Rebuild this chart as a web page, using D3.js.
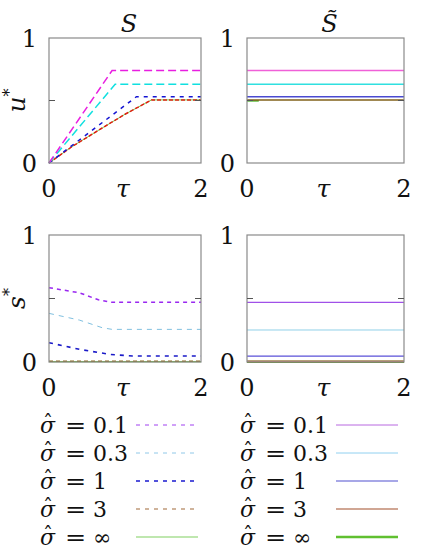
<!DOCTYPE html>
<html>
<head>
<meta charset="utf-8">
<script src="https://cdn.jsdelivr.net/npm/d3@7"></script>
<style>
  body { margin: 0; background: #fff; }
  svg text { font-family: "DejaVu Serif"; fill: #111; }
</style>
</head>
<body>
<div id="chart"></div>
<script>
// sigma values (series)
var sigmaLabels = ["0.1", "0.3", "1", "3", "\u221E"];

// u* for S : [tau, value] points per sigma
var uS = [
  [[0, 0], [0.83, 0.74], [2, 0.74]],
  [[0, 0], [0.87, 0.63], [2, 0.63]],
  [[0, 0], [1.15, 0.53], [2, 0.53]],
  [[0, 0], [0.3, 0.13], [0.7, 0.28], [1.0, 0.39], [1.35, 0.505], [2, 0.505]],
  [[0, 0], [0.3, 0.13], [0.7, 0.28], [1.0, 0.39], [1.35, 0.505], [2, 0.505]]
];
// u* for S-tilde
var uT = [
  [[0, 0.74], [2, 0.74]],
  [[0, 0.63], [2, 0.63]],
  [[0, 0.53], [2, 0.53]],
  [[0, 0.505], [2, 0.505]],
  [[0, 0.497], [0.15, 0.497]]
];
// s* for S
var sS = [
  [[0, 0.585], [0.4, 0.545], [0.65, 0.49], [0.83, 0.47], [2, 0.47]],
  [[0, 0.383], [0.4, 0.33], [0.7, 0.27], [0.83, 0.257], [2, 0.257]],
  [[0, 0.152], [0.4, 0.1], [0.8, 0.06], [1.1, 0.047], [2, 0.047]],
  [[0, 0.006], [2, 0.006]],
  [[0, 0.003], [2, 0.003]]
];
// s* for S-tilde
var sT = [
  [[0, 0.47], [2, 0.47]],
  [[0, 0.252], [2, 0.252]],
  [[0, 0.047], [2, 0.047]],
  [[0, 0.006], [2, 0.006]],
  [[0, 0.002], [2, 0.002]]
];

var xTicks = [0, 2];
var yTicks = [0, 1];

// styles per panel, per series
var dashedS = ["8,4", "8,4", "4,5", "4,2", null];
var colUS = ["#e81ee0", "#10e0e0", "#1414d2", "#e02010", "#70d050"];
var colUT = ["#f060d8", "#30e0e0", "#4a4ad0", "#806018", "#40b020"];
var colSS = ["#9a28f0", "#80c0e0", "#1a1ac8", "#8a6a20", "#70c040"];
var colST = ["#a050e8", "#90d0e8", "#5a50d8", "#c07868", "#609020"];
var colLegL = ["#a040f0", "#90c8e8", "#1a1ad0", "#a06838", "#80d060"];
var colLegR = ["#b868e0", "#90d0f0", "#5050d0", "#c08870", "#60c030"];

var svg = d3.select("#chart").append("svg")
  .attr("width", 425).attr("height", 550);

function panel(x0, x1, y0, y1, data, cols, dashes, widths, title, ylab) {
  var x = d3.scaleLinear().domain([0, 2]).range([x0, x1]);
  var y = d3.scaleLinear().domain([0, 1]).range([y1, y0]);
  var g = svg.append("g");

  // series (draw last series first so green stays underneath)
  var line = d3.line().x(function(d) { return x(d[0]); }).y(function(d) { return y(d[1]); });
  for (var i = data.length - 1; i >= 0; i--) {
    g.append("path")
      .datum(data[i])
      .attr("fill", "none")
      .attr("stroke", cols[i])
      .attr("stroke-width", widths[i])
      .attr("stroke-dasharray", dashes ? dashes[i] : null)
      .attr("d", line);
  }

  // frame
  g.append("rect")
    .attr("x", x0).attr("y", y0)
    .attr("width", x1 - x0).attr("height", y1 - y0)
    .attr("fill", "none").attr("stroke", "#8a8a8a").attr("stroke-width", 1.2);
  // mid ticks
  [x0, x1].forEach(function(px, k) {
    g.append("line")
      .attr("x1", px).attr("x2", k === 0 ? px + 6 : px - 6)
      .attr("y1", y(0.5)).attr("y2", y(0.5))
      .attr("stroke", "#555").attr("stroke-width", 1);
  });

  // tick labels
  g.selectAll(".yt").data(yTicks).enter().append("text")
    .attr("x", x0 - 12).attr("y", function(d) { return y(d) + 9; })
    .attr("text-anchor", "end").attr("font-size", 24)
    .text(function(d) { return d; });
  g.selectAll(".xt").data(xTicks).enter().append("text")
    .attr("x", function(d) { return x(d); }).attr("y", y1 + 34)
    .attr("text-anchor", "middle").attr("font-size", 24)
    .text(function(d) { return d; });
  g.append("text")
    .attr("x", x(1) - 2).attr("y", y1 + 34)
    .attr("text-anchor", "middle").attr("font-size", 25)
    .attr("font-style", "italic")
    .text("\u03C4");

  if (title) {
    g.append("text")
      .attr("x", (x0 + x1) / 2 + 4).attr("y", y0 - 6)
      .attr("text-anchor", "middle").attr("font-size", 24)
      .attr("font-style", "italic")
      .text(title);
  }
  if (ylab) {
    var t = g.append("text")
      .attr("transform", "translate(" + (x0 - 24) + "," + y(0.5) + ") rotate(-90)")
      .attr("text-anchor", "middle").attr("font-size", 25);
    t.append("tspan").attr("font-style", "italic").text(ylab);
    t.append("tspan").attr("font-size", 16).attr("dy", -10).text("*");
  }
}

panel(49, 201, 38, 163, uS, colUS, dashedS, [1.5, 1.5, 1.5, 1.5, 1], "S", "u");
panel(247, 404, 38, 163, uT, colUT, null, [1.3, 1.3, 1.3, 1.5, 1.5], "S\u0303", null);
panel(49, 201, 235, 362, sS, colSS, ["4,4", "5,5", "4,5", "4,3", null], [1.5, 1, 1.6, 1.5, 1.2], null, "s");
panel(247, 404, 235, 362, sT, colST, null, [1.3, 1, 1.3, 1.5, 2.5], null, null);

// legend
var legRows = d3.range(sigmaLabels.length);
var legY = d3.scaleLinear().domain([0, 4]).range([425, 537]);
var legDash = ["4,5", "4,5", "4,5", "4,5", null];
var legWL = [1, 1, 1.6, 1.2, 1.2];
var legWR = [1, 1, 1.2, 1.5, 2.5];

[[40, colLegL, legDash, legWL, 136], [240, colLegR, null, legWR, 336]].forEach(function(c) {
  var lx = c[0];
  var rows = svg.append("g").selectAll("g").data(legRows).enter().append("g");
  // sigma with hat, kept in one text element
  var sig = rows.append("text").attr("x", lx).attr("y", function(i) { return legY(i) + 8; })
    .attr("font-size", 22);
  sig.append("tspan").attr("font-style", "italic").text("\u03C3");
  sig.append("tspan").attr("font-size", 20).attr("dx", -12).attr("dy", -3).text("\u02C6");
  rows.append("text").attr("x", lx + 25).attr("y", function(i) { return legY(i) + 8; })
    .attr("font-size", 22).attr("transform", function(i) {
      return "translate(" + (lx + 25) + ",0) scale(1.15,1) translate(" + (-(lx + 25)) + ",0)";
    }).text("=");
  rows.append("text").attr("x", lx + 53).attr("y", function(i) { return legY(i) + 8; })
    .attr("font-size", 22).text(function(i) { return sigmaLabels[i]; });
  rows.append("line")
    .attr("x1", c[4]).attr("x2", c[4] + 62)
    .attr("y1", function(i) { return legY(i); }).attr("y2", function(i) { return legY(i); })
    .attr("stroke", function(i) { return c[1][i]; })
    .attr("stroke-width", function(i) { return c[3][i]; })
    .attr("stroke-dasharray", function(i) { return c[2] ? c[2][i] : null; });
});
</script>
</body>
</html>
